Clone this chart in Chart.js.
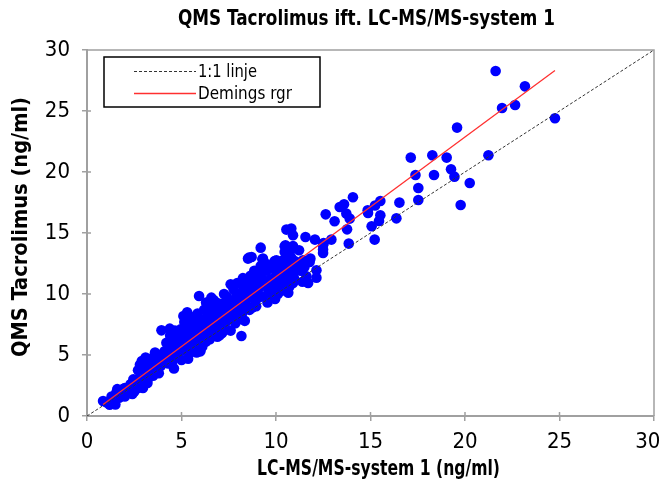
<!DOCTYPE html>
<html><head><meta charset="utf-8">
<script src="https://cdn.jsdelivr.net/npm/chart.js@4.4.1/dist/chart.umd.min.js"></script>
<style>html,body{margin:0;padding:0;background:#fff;overflow:hidden}</style>
</head><body>
<canvas id="c" width="660" height="493" style="width:660px;height:493px;display:block"></canvas>
<script>
const chartTitle = 'QMS Tacrolimus ift. LC-MS/MS-system 1';
const xTitle = 'LC-MS/MS-system 1 (ng/ml)';
const yTitle = 'QMS Tacrolimus (ng/ml)';
const legendLabels = ['1:1 linje', 'Demings rgr'];
const axisMin = 0, axisMax = 30, tickStep = 5;
const identityEnds = [0, 30];
const demingSlope = 1.145;
const demingIntercept = -0.03;

const lcms = [
 0.85,1.20,1.05,1.40,1.50,1.30,1.55,1.70,1.80,1.90,
 2.00,2.10,2.20,2.30,2.40,2.50,2.60,2.70,2.96,1.60,
 2.00,2.30,2.50,2.70,2.45,2.85,2.90,3.10,2.80,3.00,
 3.20,3.00,2.70,3.10,3.20,3.30,3.40,3.50,3.60,3.70,
 3.80,3.90,3.50,3.30,3.90,4.00,3.60,3.20,3.80,3.94,
 4.38,4.10,4.20,4.30,4.40,4.50,4.60,4.70,4.80,4.90,
 4.50,4.20,4.80,4.95,4.60,4.30,4.75,4.90,4.10,5.00,
 4.40,4.65,5.10,5.20,5.30,5.40,5.50,5.60,5.70,5.80,
 5.90,6.00,5.20,5.40,5.60,5.80,5.05,5.35,5.50,5.75,
 5.95,5.93,5.25,5.65,5.45,5.85,5.15,6.00,6.58,6.10,
 6.20,6.30,6.40,6.50,6.60,6.70,6.80,6.90,7.00,6.20,
 6.40,6.10,6.30,6.50,6.75,6.90,7.02,6.60,6.45,6.85,
 6.15,6.35,6.55,6.95,7.00,7.10,7.20,7.30,7.40,7.50,
 7.60,7.70,7.80,7.90,8.00,7.15,7.35,7.55,7.65,7.85,
 7.95,7.25,7.45,7.75,8.00,8.17,7.05,7.60,7.90,8.10,
 8.20,8.30,8.40,8.50,8.60,8.70,8.80,8.90,9.00,8.15,
 8.35,8.55,8.75,8.95,8.52,8.57,8.71,8.25,8.45,8.65,
 8.85,8.05,8.95,8.40,8.80,9.19,9.31,9.93,9.19,9.28,
 9.10,9.20,9.30,9.40,9.50,9.60,9.70,9.80,9.90,10.00,
 9.05,9.35,9.55,9.75,9.45,9.65,9.85,10.02,9.88,9.95,
 10.37,10.72,10.99,10.46,11.08,10.37,10.37,10.55,10.81,10.90,
 10.46,10.81,10.50,10.90,10.46,10.81,10.55,11.11,10.20,10.30,
 10.60,10.70,10.80,10.90,10.10,10.25,10.65,10.95,10.15,11.22,
 11.43,11.82,12.49,11.61,12.14,12.14,11.56,12.06,12.52,12.49,
 12.49,12.93,11.78,11.25,11.30,11.50,11.40,14.07,13.60,13.37,
 13.72,13.90,12.63,13.10,13.76,14.87,13.85,15.52,15.24,14.85,
 15.52,15.45,15.06,15.22,16.53,16.37,17.53,17.53,17.13,18.27,
 19.03,21.24,17.38,18.36,19.26,19.44,20.25,19.77,19.58,21.62,
 23.17,21.96,22.65,24.76,5.10,5.30,6.30,6.70,7.95,11.70
];
const qms = [
 1.23,0.93,1.10,1.20,0.95,1.60,1.90,1.50,1.90,2.20,
 1.60,2.00,1.90,2.20,1.80,2.00,2.30,2.30,2.30,2.20,
 2.30,2.60,2.70,3.00,3.00,2.60,4.50,4.80,4.20,2.80,
 2.70,3.75,3.75,3.30,3.00,3.60,4.00,3.30,4.30,3.80,
 4.60,4.10,4.80,4.50,5.00,4.40,5.20,4.10,3.50,7.02,
 7.16,5.30,4.70,5.80,5.10,4.40,5.50,6.20,4.90,5.70,
 6.40,6.00,6.80,7.10,3.90,4.30,5.30,6.30,4.80,4.60,
 6.60,7.00,5.40,6.00,6.60,5.10,7.20,6.20,5.60,7.50,
 6.80,6.00,7.30,7.80,8.10,5.20,6.50,4.70,5.80,6.40,
 7.80,9.84,5.70,7.00,6.90,8.40,7.70,5.30,9.70,7.20,
 6.50,8.00,7.40,6.30,8.50,7.70,6.90,8.90,7.50,8.70,
 9.00,5.70,6.10,7.90,8.20,6.50,6.61,6.80,8.40,9.30,
 7.90,6.80,7.20,7.90,8.60,9.20,7.30,8.40,9.80,8.00,
 7.00,9.00,8.60,10.10,9.30,6.80,7.70,9.40,8.10,7.60,
 8.90,10.00,8.80,10.40,7.90,6.56,8.10,10.80,9.60,9.80,
 8.40,10.50,9.10,11.00,8.70,9.90,10.80,9.40,11.30,10.90,
 7.80,10.20,8.90,10.40,12.90,12.98,13.03,11.30,9.60,11.50,
 11.90,8.60,9.00,10.60,10.00,13.80,12.90,12.70,12.30,12.84,
 10.50,11.60,9.80,10.90,11.90,10.30,11.20,12.10,10.70,11.50,
 9.70,11.10,9.30,10.00,12.50,12.30,11.00,12.76,12.54,9.60,
 12.76,12.62,12.70,12.08,12.08,11.12,10.30,15.28,15.36,14.81,
 13.91,13.64,13.99,13.93,13.44,12.98,12.00,12.00,11.80,10.70,
 11.40,10.60,11.80,10.90,10.00,12.30,10.10,11.30,11.00,13.58,
 12.76,12.90,13.36,11.45,11.94,11.34,14.67,14.46,14.18,13.99,
 13.64,14.46,12.62,12.57,11.90,12.20,11.00,17.93,17.35,17.13,
 16.59,16.18,16.53,15.96,15.30,16.64,14.13,17.62,17.25,16.86,
 16.45,15.98,15.55,14.46,17.49,16.20,17.70,18.69,21.18,21.37,
 21.18,21.37,19.75,19.75,20.22,19.62,19.10,17.30,23.64,28.28,
 27.02,25.25,25.49,24.40,8.20,8.50,9.30,9.50,10.90,10.90
];

const FONT = "'Liberation Sans Narrow', 'Arial Narrow', 'DejaVu Sans Condensed', sans-serif";
const points = lcms.map((x, i) => ({x: x, y: qms[i]}));
const xMinData = Math.min(...lcms), xMaxData = Math.max(...lcms);
const demingLine = [xMinData, xMaxData].map(x => ({x: x, y: demingIntercept + demingSlope * x}));
const identityLine = identityEnds.map(v => ({x: v, y: v}));

// draw text squeezed horizontally to a target width (narrow font substitute)
function narrowText(ctx, text, cx, cy, font, targetWidth, rotate, align) {
  ctx.save();
  ctx.font = font;
  ctx.fillStyle = '#000';
  ctx.textBaseline = 'middle';
  ctx.textAlign = align || 'center';
  const w = ctx.measureText(text).width;
  const sx = targetWidth ? targetWidth / w : 1;
  ctx.translate(cx, cy);
  if (rotate) ctx.rotate(rotate);
  ctx.scale(sx, 1);
  ctx.fillText(text, 0, 0);
  ctx.restore();
}

const textPlugin = {
  id: 'texts',
  afterDraw(chart) {
    const {ctx} = chart;
    narrowText(ctx, chartTitle, 366.5, 20, "bold 21px " + FONT, 377);
    narrowText(ctx, xTitle, 378.5, 470, "bold 21px " + FONT, 243);
    narrowText(ctx, yTitle, 22, 227, "bold 21px " + FONT, 260, -Math.PI / 2);
  }
};
const framePlugin = {
  id: 'frame',
  beforeDatasetsDraw(chart) {
    const {ctx, chartArea, scales} = chart;
    ctx.save();
    ctx.strokeStyle = '#a0a0a0';
    ctx.lineWidth = 1.5;
    ctx.beginPath();
    ctx.moveTo(chartArea.left, chartArea.top);
    ctx.lineTo(chartArea.right, chartArea.top);
    ctx.lineTo(chartArea.right, chartArea.bottom);
    scales.x.ticks.forEach(t => {
      const px = scales.x.getPixelForValue(t.value);
      ctx.moveTo(px, chartArea.bottom);
      ctx.lineTo(px, chartArea.bottom - 4);
    });
    scales.y.ticks.forEach(t => {
      const py = scales.y.getPixelForValue(t.value);
      ctx.moveTo(chartArea.left, py);
      ctx.lineTo(chartArea.left + 4, py);
    });
    ctx.stroke();
    ctx.restore();
  }
};
const legendPlugin = {
  id: 'boxLegend',
  afterDraw(chart) {
    const {ctx, chartArea} = chart;
    const bx = chartArea.left + 17, by = chartArea.top + 7, bw = 216, bh = 50;
    ctx.save();
    ctx.fillStyle = '#fff';
    ctx.fillRect(bx, by, bw, bh);
    ctx.strokeStyle = '#000';
    ctx.lineWidth = 1.5;
    ctx.strokeRect(bx, by, bw, bh);
    const sets = [chart.data.datasets[1], chart.data.datasets[2]];
    const rows = [by + 14.5, by + 36.5];
    const widths = [59, 94];
    sets.forEach((ds, i) => {
      ctx.strokeStyle = ds.borderColor;
      ctx.lineWidth = ds.borderWidth;
      ctx.setLineDash(ds.borderDash || []);
      ctx.beginPath();
      ctx.moveTo(bx + 30, rows[i]);
      ctx.lineTo(bx + 92, rows[i]);
      ctx.stroke();
      ctx.setLineDash([]);
      narrowText(ctx, ds.label, bx + 94, rows[i] + 1, "18px " + FONT, widths[i], 0, 'left');
    });
    ctx.restore();
  }
};

new Chart(document.getElementById('c'), {
  type: 'scatter',
  data: {
    datasets: [
      {label: 'Prøver', data: points, backgroundColor: '#0000ff', borderWidth: 0, pointRadius: 5.3, order: 3},
      {type: 'line', label: legendLabels[0], data: identityLine, borderColor: '#333333', borderWidth: 1, borderDash: [3, 2], pointRadius: 0, fill: false, order: 2},
      {type: 'line', label: legendLabels[1], data: demingLine, borderColor: '#ff3030', borderWidth: 1.3, pointRadius: 0, fill: false, order: 1}
    ]
  },
  options: {
    responsive: false,
    animation: false,
    devicePixelRatio: 1,
    events: [],
    layout: {padding: {left: 0, right: 6, top: 50, bottom: 0}},
    plugins: {legend: {display: false}, tooltip: {enabled: false}, title: {display: false}},
    scales: {
      x: {
        type: 'linear', min: axisMin, max: axisMax,
        ticks: {stepSize: tickStep, color: '#000', font: {family: FONT, size: 22}, padding: 8,
          callback: (v) => (v === axisMax ? v + '  ' : String(v))},
        grid: {display: true, drawOnChartArea: false, drawTicks: true, tickLength: 5, color: '#a0a0a0', lineWidth: 1.5},
        border: {display: true, color: '#a0a0a0', width: 2},
        title: {display: false},
        afterFit(s) { s.height = 77; s.paddingLeft = 0; s.paddingRight = 0; }
      },
      y: {
        type: 'linear', min: axisMin, max: axisMax,
        ticks: {stepSize: tickStep, color: '#000', font: {family: FONT, size: 22}, padding: 12},
        grid: {display: true, drawOnChartArea: false, drawTicks: true, tickLength: 5, color: '#a0a0a0', lineWidth: 1.5},
        border: {display: true, color: '#a0a0a0', width: 2},
        title: {display: false},
        afterFit(s) { s.width = 87; s.paddingTop = 0; s.paddingBottom = 0; }
      }
    }
  },
  plugins: [framePlugin, legendPlugin, textPlugin]
});
</script>
</body></html>
